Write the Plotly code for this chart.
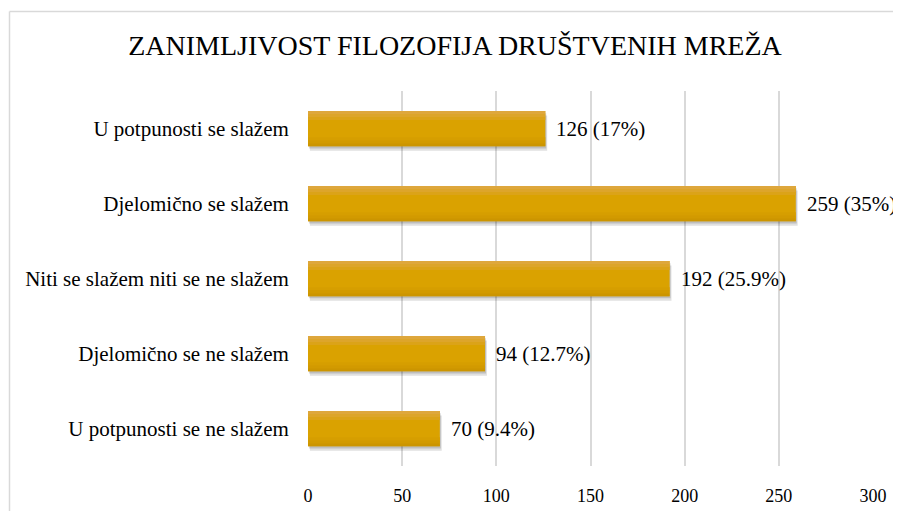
import plotly.graph_objects as go

categories = [
    "U potpunosti se slažem",
    "Djelomično se slažem",
    "Niti se slažem niti se ne slažem",
    "Djelomično se ne slažem",
    "U potpunosti se ne slažem",
]
counts = [126, 259, 192, 94, 70]
percents = ["17%", "35%", "25.9%", "12.7%", "9.4%"]
x_ticks = [0, 50, 100, 150, 200, 250, 300]

labels = [f"{c} ({p})" for c, p in zip(counts, percents)]

SERIF = "Liberation Serif"
OFF = 8  # browser body margin
W, H = 901 - OFF, 511 - OFF
L, R, T, B = 308 - OFF, 901 - 873, 91 - OFF, 511 - 466
pw = W - L - R
ph = H - T - B

BW = 0.47

fig = go.Figure()
# soft shadow
fig.add_trace(go.Bar(
    y=categories, x=counts, orientation="h", base=1.0,
    marker=dict(color="rgba(0,0,0,0.12)", line=dict(width=0)),
    width=BW, offset=-BW / 2 + 0.06, hoverinfo="skip",
))
fig.add_trace(go.Bar(
    y=categories, x=counts, orientation="h", base=0.5,
    marker=dict(color="rgba(0,0,0,0.15)", line=dict(width=0)),
    width=BW, offset=-BW / 2 + 0.03, hoverinfo="skip",
))
# main bar
fig.add_trace(go.Bar(
    y=categories, x=counts, orientation="h",
    marker=dict(color="#DAA200", line=dict(width=0)),
    width=BW, offset=-BW / 2,
))
# gradient bands
bands = [
    (0.00, 0.04, "#DEA73C"),
    (0.04, 0.08, "#DDA52A"),
    (0.08, 0.12, "#DBA318"),
    (BW - 0.12, BW - 0.08, "#D69E00"),
    (BW - 0.08, BW - 0.04, "#D29A00"),
    (BW - 0.04, BW, "#CC9500"),
]
for a, b, col in bands:
    fig.add_trace(go.Bar(
        y=categories, x=counts, orientation="h",
        marker=dict(color=col, line=dict(width=0)),
        width=b - a, offset=-BW / 2 + a, hoverinfo="skip",
    ))

annotations = [
    dict(x=c, y=cat, xref="x", yref="y", text=t, showarrow=False,
         xanchor="left", yanchor="middle", xshift=9,
         font=dict(family=SERIF, size=21, color="#000000"))
    for c, cat, t in zip(counts, categories, labels)
]


def px_x(p):
    return (p - OFF - L) / pw


def px_y(p):
    return (H - B - (p - OFF)) / ph


fig.update_layout(
    width=W, height=H,
    margin=dict(l=L, r=R, t=T, b=B, autoexpand=False),
    paper_bgcolor="white", plot_bgcolor="white",
    showlegend=False, barmode="overlay",
    title=dict(text="ZANIMLJIVOST FILOZOFIJA DRUŠTVENIH MREŽA",
               x=(455 - OFF) / W, xanchor="center", y=1 - (45 - OFF) / H, yanchor="middle",
               font=dict(family=SERIF, size=28, color="#000000")),
    xaxis=dict(range=[0, 300], tickvals=x_ticks, showgrid=True, gridcolor="#D9D9D9",
               gridwidth=1.5, zeroline=False, showline=False, automargin=False,
               ticks="outside", ticklen=13, tickcolor="rgba(0,0,0,0)",
               tickfont=dict(family=SERIF, size=18, color="#000000")),
    yaxis=dict(categoryorder="array", categoryarray=categories, autorange="reversed",
               showgrid=False, zeroline=False, showline=False, automargin=False,
               ticks="outside", ticklen=14, tickcolor="rgba(0,0,0,0)",
               tickfont=dict(family=SERIF, size=21, color="#000000")),
    annotations=annotations,
    shapes=[
        dict(type="line", xref="paper", yref="paper", x0=px_x(9.5), x1=px_x(W + 20),
             y0=px_y(11.5), y1=px_y(11.5), line=dict(color="#D9D9D9", width=1.5)),
        dict(type="line", xref="paper", yref="paper", x0=px_x(9.5), x1=px_x(9.5),
             y0=px_y(11.5), y1=px_y(H + 20), line=dict(color="#D9D9D9", width=1.5)),
    ],
)

fig.write_html("out.html")
